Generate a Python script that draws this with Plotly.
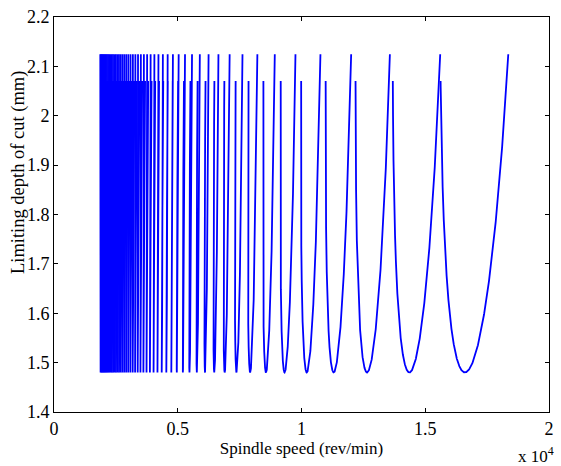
import numpy as np
import plotly.graph_objects as go

# Modal / cutting parameters (single-mode model)
natural_freq_hz = 1712.8
damping_ratio = 0.0335
depth_scale_mm = 10.687
phase_offset = 0.860
phase_gain = 1.83
chatter_freq_range_hz = [1735.6, 1845.9]
lobe_numbers = list(range(7, 58))

x_tick_vals = [0, 5000, 10000, 15000, 20000]
x_tick_text = ["0", "0.5", "1", "1.5", "2"]
y_tick_vals = [1.4, 1.5, 1.6, 1.7, 1.8, 1.9, 2.0, 2.1, 2.2]
y_tick_text = ["1.4", "1.5", "1.6", "1.7", "1.8", "1.9", "2", "2.1", "2.2"]

fc = np.linspace(chatter_freq_range_hz[0], chatter_freq_range_hz[1], 1500)
r = fc / natural_freq_hz
u = r**2 - 1
depth = depth_scale_mm * (u**2 + (2 * damping_ratio * r) ** 2) / u
eps = phase_offset - phase_gain * np.arctan(2 * damping_ratio * r / u)

xs, ys = [], []
for N in lobe_numbers:
    n = 60 * fc / (N + eps)
    xs.extend(n.tolist() + [None])
    ys.extend(depth.tolist() + [None])

fig = go.Figure()
fig.add_trace(go.Scatter(x=xs, y=ys, mode="lines",
                         line=dict(color="#0000FF", width=1.8),
                         showlegend=False, hoverinfo="skip"))

font_family = "Liberation Serif, Times New Roman, serif"
axis_common = dict(showline=True, linecolor="black", linewidth=1, mirror="ticks",
                   ticks="inside", ticklen=4, tickcolor="black", showgrid=False,
                   zeroline=False, automargin=False,
                   tickfont=dict(family=font_family, size=18, color="black"))

fig.update_layout(
    width=561, height=466,
    margin=dict(l=54, r=12, t=17, b=54),
    paper_bgcolor="white", plot_bgcolor="white",
    font=dict(family=font_family, color="black"),
    xaxis=dict(range=[0, 20000], tickvals=x_tick_vals, ticktext=x_tick_text,
               title=dict(text="Spindle speed (rev/min)", font=dict(size=17), standoff=2),
               **axis_common),
    yaxis=dict(range=[1.4, 2.2], tickvals=y_tick_vals, ticktext=y_tick_text,
               **axis_common),
)
fig.add_annotation(text="Limiting depth of cut (mm)", xref="paper", yref="paper",
                   x=-0.0727, y=0.605, xanchor="center", yanchor="middle", textangle=-90,
                   showarrow=False, font=dict(family=font_family, size=18.5, color="black"))
fig.add_annotation(text="x 10<sup>4</sup>", xref="paper", yref="paper", x=1.0, y=-0.11,
                   xanchor="right", yanchor="middle", xshift=7, showarrow=False,
                   font=dict(family=font_family, size=17, color="black"))

fig.write_html("out.html", config={"displayModeBar": False},
               post_script="document.body.style.margin='0';document.body.style.overflow='hidden';")
